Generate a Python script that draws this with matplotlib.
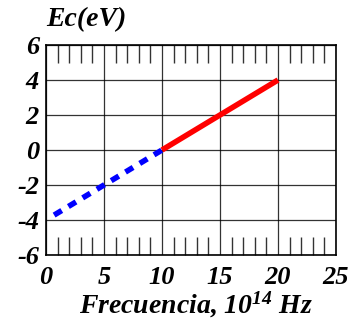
import numpy as np
import matplotlib.pyplot as plt
from matplotlib.ticker import MultipleLocator

# datos
freq_neg = [0.7, 10]
ec_neg = [-3.72, 0]
freq_pos = [10, 20]
ec_pos = [0, 4]
xticks = [0, 5, 10, 15, 20, 25]
yticks = [-6, -4, -2, 0, 2, 4, 6]

plt.rcParams['font.family'] = ['Liberation Serif', 'DejaVu Serif']
plt.rcParams['font.weight'] = 'bold'
plt.rcParams['font.style'] = 'italic'
plt.rcParams['axes.unicode_minus'] = False
plt.rcParams['mathtext.fontset'] = 'custom'
plt.rcParams['mathtext.rm'] = 'Liberation Serif:bold:italic'
plt.rcParams['mathtext.it'] = 'Liberation Serif:bold:italic'
plt.rcParams['mathtext.bf'] = 'Liberation Serif:bold:italic'

fig = plt.figure(figsize=(3.59, 3.24), dpi=100)
ax = fig.add_axes([46/359, 1 - 255/324, 290/359, 210/324])

ax.plot(freq_neg, ec_neg, color='blue', lw=4, ls=(0, (1.6, 1.4)), solid_capstyle='butt')
ax.plot(freq_pos, ec_pos, color='red', lw=4, solid_capstyle='butt')

ax.set_xlim(0, 25)
ax.set_ylim(-6, 6)
ax.set_xticks(xticks)
ax.set_yticks(yticks)
ax.xaxis.set_minor_locator(MultipleLocator(1))
ax.grid(True, color='black', lw=0.9, alpha=0.8)
ax.tick_params(which='major', length=0, labelsize=19)
ax.tick_params(axis='x', which='major', pad=8)
ax.tick_params(axis='y', which='major', pad=5)
ax.tick_params(axis='x', which='minor', direction='in', length=13, top=True, bottom=True,
               width=1, color='#333333')
for s in ax.spines.values():
    s.set_linewidth(1.2)

fig.text(86/359, 1 - 20/324, 'Ec(eV)', fontsize=20, ha='center', va='center')
fig.text(196/359, 1 - 305/324, r'Frecuencia, 10$^{14}$ Hz', fontsize=20,
         ha='center', va='center')

fig.savefig('out.png', dpi=100)
